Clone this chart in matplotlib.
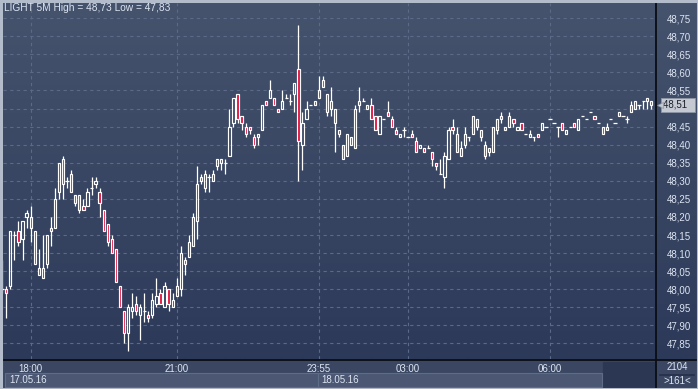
import numpy as np
import matplotlib
matplotlib.use("Agg")
import matplotlib.pyplot as plt
from matplotlib.patches import Rectangle
from matplotlib.colors import LinearSegmentedColormap
import matplotlib.transforms as mtransforms

# 5-minute candles, LIGHT, 17.05.16 17:30 .. 18.05.16 ~08:00
opens = [48.00, 48.00, 48.01, 48.15, 48.16, 48.14, 48.20, 48.20, 48.16, 48.06,
         48.03, 48.07, 48.17, 48.17, 48.27, 48.36, 48.30, 48.32, 48.26, 48.26,
         48.23, 48.23, 48.28, 48.29, 48.27, 48.22, 48.18, 48.14, 48.11, 48.01,
         47.94, 47.88, 47.94, 47.96, 47.93, 47.94, 47.93, 47.93, 47.96, 47.99,
         47.95, 48.00, 47.95, 47.98, 48.00, 48.08, 48.09, 48.12, 48.19, 48.31,
         48.28, 48.31, 48.30, 48.34, 48.35, 48.35, 48.37, 48.46, 48.54, 48.48,
         48.45, 48.45, 48.42, 48.42, 48.44, 48.52, 48.53, 48.53, 48.50, 48.50,
         48.53, 48.52, 48.54, 48.61, 48.40, 48.47, 48.51, 48.52, 48.53, 48.58,
         48.54, 48.50, 48.50, 48.44, 48.40, 48.37, 48.42, 48.39, 48.52, 48.52,
         48.51, 48.51, 48.48, 48.43, 48.47, 48.49, 48.47, 48.44, 48.42, 48.44,
         48.42, 48.43, 48.41, 48.39, 48.39, 48.39, 48.38, 48.35, 48.32, 48.31,
         48.36, 48.45, 48.43, 48.37, 48.40, 48.42, 48.43, 48.47, 48.44, 48.40,
         48.38, 48.38, 48.44, 48.48, 48.45, 48.45, 48.47, 48.44, 48.46, 48.43,
         48.42, 48.42, 48.43, 48.44, 48.45, 48.47, 48.46, 48.45, 48.46, 48.43,
         48.45, 48.46, 48.44, 48.48, 48.47, 48.49, 48.48, 48.46, 48.45, 48.44,
         48.47, 48.46, 48.48, 48.48, 48.47, 48.49, 48.50, 48.51, 48.52, 48.52,
         48.52]
highs = [48.08, 48.01, 48.16, 48.16, 48.19, 48.19, 48.22, 48.23, 48.16, 48.11,
         48.15, 48.15, 48.20, 48.28, 48.35, 48.37, 48.31, 48.33, 48.26, 48.26,
         48.25, 48.28, 48.31, 48.31, 48.28, 48.22, 48.18, 48.15, 48.11, 48.01,
         47.94, 47.96, 47.99, 47.98, 47.96, 47.99, 47.94, 47.99, 48.03, 48.00,
         48.02, 48.00, 47.99, 48.03, 48.12, 48.09, 48.15, 48.21, 48.34, 48.32,
         48.33, 48.32, 48.33, 48.36, 48.36, 48.36, 48.50, 48.53, 48.54, 48.48,
         48.46, 48.45, 48.43, 48.43, 48.51, 48.52, 48.58, 48.53, 48.50, 48.55,
         48.54, 48.54, 48.57, 48.73, 48.49, 48.52, 48.51, 48.52, 48.59, 48.59,
         48.54, 48.56, 48.50, 48.44, 48.40, 48.43, 48.42, 48.51, 48.56, 48.53,
         48.51, 48.53, 48.48, 48.48, 48.47, 48.52, 48.48, 48.45, 48.43, 48.45,
         48.42, 48.44, 48.42, 48.40, 48.39, 48.40, 48.38, 48.35, 48.36, 48.38,
         48.45, 48.47, 48.45, 48.41, 48.45, 48.42, 48.48, 48.47, 48.44, 48.41,
         48.39, 48.45, 48.47, 48.49, 48.45, 48.49, 48.47, 48.45, 48.46, 48.43,
         48.44, 48.42, 48.43, 48.46, 48.45, 48.47, 48.46, 48.45, 48.46, 48.44,
         48.45, 48.46, 48.47, 48.48, 48.47, 48.49, 48.48, 48.46, 48.45, 48.46,
         48.47, 48.46, 48.49, 48.48, 48.48, 48.52, 48.52, 48.51, 48.52, 48.53,
         48.52]
lows = [47.99, 47.92, 48.00, 48.08, 48.12, 48.08, 48.17, 48.13, 48.07, 48.04,
        48.03, 48.06, 48.12, 48.17, 48.25, 48.25, 48.28, 48.27, 48.23, 48.21,
        48.22, 48.23, 48.26, 48.28, 48.20, 48.16, 48.12, 48.10, 48.02, 47.95,
        47.85, 47.83, 47.92, 47.93, 47.86, 47.91, 47.91, 47.92, 47.95, 47.96,
        47.95, 47.94, 47.95, 47.98, 47.98, 48.04, 48.09, 48.12, 48.14, 48.29,
        48.27, 48.27, 48.30, 48.33, 48.33, 48.32, 48.37, 48.45, 48.46, 48.44,
        48.42, 48.43, 48.39, 48.40, 48.44, 48.51, 48.53, 48.51, 48.49, 48.50,
        48.53, 48.51, 48.49, 48.30, 48.33, 48.47, 48.51, 48.51, 48.53, 48.56,
        48.48, 48.48, 48.38, 48.42, 48.36, 48.37, 48.40, 48.39, 48.49, 48.52,
        48.50, 48.47, 48.44, 48.43, 48.47, 48.48, 48.45, 48.43, 48.42, 48.42,
        48.42, 48.42, 48.38, 48.39, 48.38, 48.39, 48.34, 48.33, 48.32, 48.28,
        48.36, 48.43, 48.38, 48.37, 48.39, 48.41, 48.43, 48.44, 48.41, 48.36,
        48.37, 48.38, 48.43, 48.46, 48.44, 48.45, 48.45, 48.44, 48.44, 48.43,
        48.42, 48.41, 48.42, 48.44, 48.45, 48.47, 48.46, 48.42, 48.44, 48.43,
        48.45, 48.45, 48.44, 48.48, 48.47, 48.49, 48.47, 48.46, 48.43, 48.44,
        48.47, 48.46, 48.48, 48.48, 48.46, 48.49, 48.50, 48.50, 48.50, 48.50,
        48.50]
closes = [48.00, 47.99, 48.16, 48.15, 48.13, 48.19, 48.21, 48.17, 48.07, 48.04,
          48.06, 48.15, 48.16, 48.25, 48.35, 48.29, 48.30, 48.27, 48.24, 48.22,
          48.22, 48.27, 48.28, 48.30, 48.24, 48.16, 48.13, 48.10, 48.02, 47.95,
          47.88, 47.95, 47.95, 47.94, 47.95, 47.94, 47.92, 47.97, 47.98, 47.96,
          48.01, 47.96, 47.97, 48.01, 48.10, 48.07, 48.13, 48.20, 48.29, 48.30,
          48.32, 48.31, 48.32, 48.36, 48.36, 48.35, 48.45, 48.53, 48.47, 48.46,
          48.43, 48.44, 48.40, 48.43, 48.51, 48.51, 48.55, 48.51, 48.49, 48.52,
          48.53, 48.52, 48.57, 48.41, 48.46, 48.50, 48.51, 48.51, 48.55, 48.56,
          48.49, 48.52, 48.46, 48.43, 48.36, 48.43, 48.40, 48.50, 48.51, 48.52,
          48.50, 48.47, 48.44, 48.48, 48.47, 48.48, 48.45, 48.43, 48.43, 48.44,
          48.42, 48.42, 48.38, 48.40, 48.38, 48.39, 48.36, 48.34, 48.32, 48.37,
          48.44, 48.44, 48.38, 48.39, 48.43, 48.42, 48.48, 48.45, 48.42, 48.37,
          48.39, 48.45, 48.47, 48.47, 48.44, 48.48, 48.46, 48.45, 48.44, 48.43,
          48.43, 48.42, 48.42, 48.46, 48.45, 48.47, 48.46, 48.45, 48.44, 48.44,
          48.45, 48.45, 48.47, 48.48, 48.47, 48.49, 48.47, 48.46, 48.43, 48.45,
          48.47, 48.46, 48.49, 48.48, 48.47, 48.51, 48.52, 48.51, 48.52, 48.53,
          48.51]

time_ticks = [7, 43, 78, 100, 135]
time_labels = ["18:00", "21:00", "23:55", "03:00", "06:00"]
date_starts = [1, 78]
date_labels = ["17.05.16", "18.05.16"]
price_ticks = [47.85, 47.90, 47.95, 48.00, 48.05, 48.10, 48.15, 48.20, 48.25, 48.30,
               48.35, 48.40, 48.45, 48.50, 48.55, 48.60, 48.65, 48.70, 48.75]
last_price = 48.51
title = "LIGHT 5M High = 48,73 Low = 47,83"
bars_total = "2104"
bars_shown = ">161<"

W, H = 698, 389
TXT = "#dde5f2"
RED = "#e3103c"
FONT = "Liberation Sans"

fig = plt.figure(figsize=(W / 100, H / 100), dpi=100)
fig.patch.set_facecolor("#3b4762")

# background / frame layer in pixel coordinates
bg = fig.add_axes([0, 0, 1, 1], zorder=0)
bg.set_xlim(0, W)
bg.set_ylim(H, 0)
bg.axis("off")
grad_cmap = LinearSegmentedColormap.from_list("g", ["#46536d", "#2c3959"])
grad = np.linspace(0, 1, 256).reshape(-1, 1)
bg.imshow(grad, extent=[656, W, 359, 3], aspect="auto", cmap=grad_cmap, zorder=0)
bg.add_patch(Rectangle((3, 360), 652, 29, color="#3b4762", zorder=1))
bg.add_patch(Rectangle((603, 362), 52, 26, color="#2b3753", zorder=2))
bg.add_patch(Rectangle((656, 360), 42, 29, color="#3b4762", zorder=1))
bg.plot([660, 694], [374.5, 374.5], color="#26304a", lw=1.2, zorder=3)
bg.text(677, 367, bars_total, color=TXT, fontsize=7, family=FONT, ha="center", va="center", zorder=3)
bg.text(677, 381, bars_shown, color=TXT, fontsize=7, family=FONT, ha="center", va="center", zorder=3)
bg.add_patch(Rectangle((0.5, 0.5), W - 1, H - 1, fill=False, ec="#b3bccb", lw=2.2, zorder=5))
bg.plot([655.5, 655.5], [2, 388], color="#0a0d14", lw=1.3, zorder=4)
bg.plot([3, 698], [360, 360], color="#0a0d14", lw=1.3, zorder=4)

# main price panel
ax = fig.add_axes([3 / W, (H - 359) / H, 652 / W, 356 / H], zorder=1)
ax.patch.set_visible(False)
x0, x1 = 0.185, 160.9
y0, y1 = 47.807, 48.792
ax.imshow(grad, extent=[x0, x1, y0, y1], aspect="auto", cmap=grad_cmap, zorder=0,
          origin="upper")
ax.set_xlim(x0, x1)
ax.set_ylim(y0, y1)

o = np.array(opens)
h = np.array(highs)
l = np.array(lows)
c = np.array(closes)
xs = np.arange(len(o))
top = np.maximum(o, c)
bot = np.minimum(o, c)
ax.vlines(xs, l, bot, color="white", lw=0.9, zorder=3)
ax.vlines(xs, top, h, color="white", lw=0.9, zorder=3)
down = c < o
up = c > o
flat = c == o
ax.bar(xs[up], (top - bot)[up], bottom=bot[up], width=0.55, facecolor="none",
       edgecolor="white", lw=0.85, zorder=4)
ax.bar(xs[down], (top - bot)[down], bottom=bot[down], width=0.55, facecolor=RED,
       edgecolor="white", lw=0.85, zorder=4)
ax.hlines(c[flat], xs[flat] - 0.42, xs[flat] + 0.42, color="white", lw=0.9, zorder=4)

for s in ax.spines.values():
    s.set_visible(False)

# the 48,50 label sits under the last-price marker, as in the terminal
ylabels = [f"{p:.2f}".replace(".", ",") for p in price_ticks]
ylabels[price_ticks.index(48.50)] = ""
ax.set_yticks(price_ticks)
ax.set_yticklabels(ylabels)
ax.yaxis.tick_right()
ax.set_xticks(time_ticks)
ax.set_xticklabels(time_labels)
ax.tick_params(axis="y", length=0, pad=8.5, colors=TXT, labelsize=7)
ax.tick_params(axis="x", length=0, pad=3.5, colors=TXT, labelsize=7)
for lab in ax.get_xticklabels() + ax.get_yticklabels():
    lab.set_family(FONT)
ax.grid(True, color="#5b6a88", lw=0.8, ls=(0, (3, 3)), zorder=1)

# date boxes below time labels
trans = mtransforms.blended_transform_factory(ax.transData, fig.transFigure)
ends = date_starts[1:] + [148.0]
for start, end, lab in zip(date_starts, ends, date_labels):
    xa = start - 0.05 if start > 1 else 1.0
    ax.add_patch(Rectangle((xa - 0.2, 2 / H), end - xa, 14 / H, transform=trans,
                           facecolor="#4b5773", edgecolor="#5f6c88", lw=0.8,
                           clip_on=False, zorder=2))
    ax.text(xa + 0.8, 9 / H, lab, transform=trans, color=TXT, fontsize=7, family=FONT,
            ha="left", va="center", clip_on=False)

# current price marker
ytr = mtransforms.blended_transform_factory(ax.transAxes, ax.transData)
ax.text(1.0 + 8 / 652, last_price, f"{last_price:.2f}".replace(".", ",") + "  ",
        transform=ytr, color="#1b1f28", fontsize=7, family=FONT, ha="left", va="center",
        zorder=6, clip_on=False,
        bbox=dict(boxstyle="square,pad=0.2", fc="#c5c9d1", ec="#8e96a6", lw=0.6))
ax.plot([1.0 + 5 / 652], [last_price], transform=ytr, marker="<", ms=5, color="#c5c9d1",
        mec="#8e96a6", mew=0.5, clip_on=False, zorder=6)

fig.text(4 / W, 1 - 8 / H, title, color=TXT, fontsize=7.3, family=FONT, ha="left", va="center")

fig.savefig("out.png", dpi=100, facecolor=fig.get_facecolor())
